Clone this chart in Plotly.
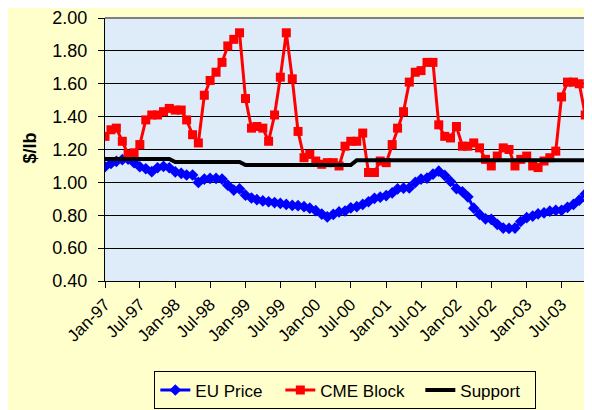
import pandas as pd
import plotly.graph_objects as go

# monthly, Jan-97 onwards
months = pd.date_range("1997-01-01", periods=84, freq="MS")

eu_price = [
    1.095, 1.115, 1.128, 1.138, 1.142, 1.120, 1.095, 1.083, 1.065, 1.089, 1.097, 1.089,
    1.064, 1.055, 1.045, 1.045, 1.000, 1.020, 1.024, 1.024, 1.020, 0.983, 0.953, 0.960,
    0.922, 0.905, 0.895, 0.887, 0.882, 0.877, 0.872, 0.866, 0.860, 0.858, 0.852, 0.843,
    0.828, 0.807, 0.790, 0.805, 0.820, 0.826, 0.845, 0.852, 0.866, 0.882, 0.903, 0.910,
    0.920, 0.936, 0.960, 0.965, 0.966, 1.000, 1.020, 1.026, 1.050, 1.068, 1.042, 1.006,
    0.962, 0.943, 0.912, 0.843, 0.805, 0.778, 0.775, 0.745, 0.722, 0.720, 0.722, 0.762,
    0.785, 0.795, 0.808, 0.815, 0.825, 0.830, 0.830, 0.848, 0.866, 0.892, 0.930, 0.960,
]

cme_block = [
    1.28, 1.32, 1.33, 1.25, 1.17, 1.18, 1.23, 1.38, 1.41, 1.41, 1.43, 1.45,
    1.44, 1.44, 1.38, 1.29, 1.24, 1.53, 1.62, 1.67, 1.73, 1.83, 1.87, 1.91,
    1.51, 1.33, 1.34, 1.33, 1.25, 1.41, 1.64, 1.91, 1.63, 1.31, 1.15, 1.17,
    1.13, 1.11, 1.12, 1.12, 1.10, 1.22, 1.25, 1.25, 1.30, 1.06, 1.06, 1.13,
    1.12, 1.23, 1.33, 1.43, 1.61, 1.67, 1.68, 1.73, 1.73, 1.35, 1.28, 1.27,
    1.34, 1.22, 1.22, 1.24, 1.21, 1.14, 1.10, 1.16, 1.21, 1.20, 1.10, 1.14,
    1.16, 1.10, 1.09, 1.13, 1.15, 1.19, 1.52, 1.61, 1.61, 1.60, 1.41,
]

support = [1.142] * 12 + [1.124] * 12 + [1.105] * 19 + [1.135] * 40

FONT = "Arial, Liberation Sans, sans-serif"

fig = go.Figure()
fig.add_trace(go.Scatter(
    x=months[:len(eu_price)], y=eu_price, name="EU Price", mode="lines+markers",
    line=dict(color="#0000FF", width=3),
    marker=dict(symbol="diamond", size=9, color="#0000FF"),
    legendwidth=80,
))
fig.add_trace(go.Scatter(
    x=months[:len(cme_block)], y=cme_block, name="CME Block", mode="lines+markers",
    line=dict(color="#FF0000", width=3),
    marker=dict(symbol="square", size=9, color="#FF0000"),
    legendwidth=95,
))
fig.add_trace(go.Scatter(
    x=months[:len(support)], y=support, name="Support", mode="lines",
    line=dict(color="#000000", width=4),
    legendwidth=70,
))

# page body has an 8px margin, so the figure is sized / offset to suit
fig.update_layout(
    width=584, height=402,
    margin=dict(l=97, r=1, t=10, b=122),
    paper_bgcolor="#FFFFCC",
    plot_bgcolor="#DEEBF8",
    font=dict(family=FONT, color="black"),
    legend=dict(
        orientation="h", x=0.4945, xanchor="center", y=-0.344, yanchor="top",
        bgcolor="#FFFFCC", bordercolor="black", borderwidth=1,
        font=dict(size=17, family=FONT),
    ),
    annotations=[dict(
        text="<b>$/lb</b>", xref="paper", yref="paper", x=-0.154, y=0.504,
        xanchor="center", yanchor="middle",
        textangle=-90, showarrow=False, font=dict(size=18, family=FONT),
    )],
    shapes=[
        dict(type="line", xref="paper", yref="paper", x0=0, x1=1, y0=1, y1=1,
             line=dict(color="#808080", width=2), layer="above"),
        dict(type="line", xref="paper", yref="paper", x0=1, x1=1, y0=0, y1=1,
             line=dict(color="#808080", width=2), layer="above"),
    ],
)

fig.update_xaxes(
    type="date", range=["1997-01-01", "2003-12-01"], automargin=False,
    tick0="1997-01-01", dtick="M6", tickformat="%b-%y", tickangle=-45,
    ticks="outside", ticklen=6, tickcolor="black",
    showline=True, linecolor="black", linewidth=1, showgrid=False,
    tickfont=dict(size=17, family=FONT),
)
fig.update_yaxes(
    range=[0.4, 2.0], dtick=0.2, tickformat=".2f", automargin=False,
    ticks="outside", ticklen=6, tickcolor="black", ticklabelstandoff=7,
    ticklabeloverflow="allow",
    showline=True, linecolor="black", linewidth=1,
    showgrid=True, gridcolor="black", gridwidth=1, zeroline=False,
    tickfont=dict(size=18, family=FONT),
)

fig.write_html("out.html")
